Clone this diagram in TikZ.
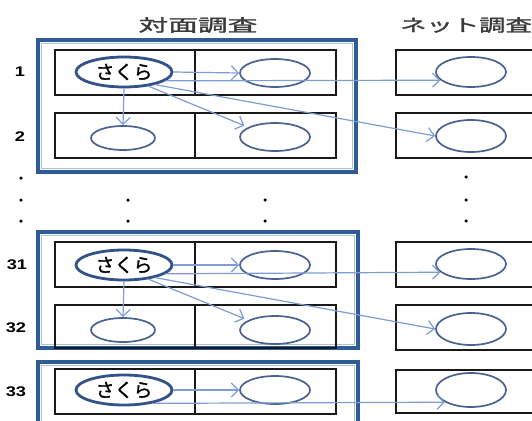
\documentclass[tikz,border=0pt]{standalone}
\usepackage{fontspec}
\setmainfont{Liberation Sans}
\newfontfamily\jp{Noto Sans CJK JP}
\newfontfamily\jpb[FakeBold=1.2]{Noto Sans CJK JP}
\usetikzlibrary{shapes.geometric,arrows.meta}
\definecolor{boxdark}{HTML}{2F5B96}
\definecolor{boxlight}{HTML}{A8C0E4}
\definecolor{arr}{HTML}{7D9DD4}
\definecolor{ell}{HTML}{4A6291}
\definecolor{sak}{HTML}{34528A}
\definecolor{titlegray}{HTML}{3A3A3A}
\begin{document}
\begin{tikzpicture}[x=1pt,y=-1pt,
 cell/.style={draw=black!90, line width=2pt, inner sep=0, minimum height=45pt},
 lcell/.style={cell, minimum width=140pt},
 rcell/.style={cell, minimum width=141pt},
 ncell/.style={cell, minimum width=150pt},
 oval/.style={ellipse, draw=ell, line width=1.7pt, minimum width=70pt, minimum height=28pt, inner sep=0},
 sakura/.style={ellipse, draw=sak, line width=2.8pt, minimum width=96pt, minimum height=30pt, inner sep=0, font=\fontsize{19}{19}\jpb},
 flow/.style={draw=arr, line width=1.2pt, -{Straight Barb[length=7pt,width=14pt]}},
 outerbox/.style={draw=boxdark, line width=3.2pt},
 innerbox/.style={draw=boxlight, line width=1.6pt},
 dotmark/.style={circle, fill=black, inner sep=0, minimum size=3.5pt},
 rowlab/.style={font=\bfseries\fontsize{14}{14}\selectfont},
 title/.style={inner sep=0, text=titlegray}
]
\useasboundingbox (0,0) rectangle (532,420);
\clip (0,0) rectangle (532,420);
\fill[white] (0,0) rectangle (532,420);

% titles
\node[title] (t1) at (198,25) {\scalebox{1.75}[1]{\fontsize{17}{17}\jpb 対面調査}};
\node[title] (t2) at (466,25) {\scalebox{1.55}[1]{\fontsize{17}{17}\jpb ネット調査}};

% ---------- block 1 ----------
\draw[outerbox] (38,40) rectangle (356,172);
\draw[innerbox] (41.5,43.5) rectangle (352.5,168.5);
\node[lcell] (c1l) at (125,72.5) {};
\node[rcell] (c1r) at (265.5,72.5) {};
\node[lcell] (c2l) at (125,135) {};
\node[rcell] (c2r) at (265.5,135) {};
\node[ncell] (n1c) at (471,72.5) {};
\node[ncell] (n2c) at (471,135) {};

\node[sakura] (s1) at (124,72) {さくら};
\node[oval] (r1) at (275,73) {};
\node[oval, minimum width=64pt, minimum height=24pt] (l2) at (123,138) {};
\node[oval] (r2) at (275,137) {};
\node[oval, minimum height=30pt] (n1) at (471,72) {};
\node[oval, minimum height=32pt] (n2) at (471,136) {};

\draw[flow] (s1.east) -- (r1.west);
\draw[flow] (s1.south) -- (l2.north);
\draw[flow, shorten >=4pt] (s1.-30) -- (r2.160);
\draw[flow] (s1.-12) -- (n1.195);
\draw[flow] (s1.-22) -- (n2.west);

\node[rowlab] (lab1) at (20,72) {\scalebox{1.3}[1]{1}};
\node[rowlab] (lab2) at (20,137) {\scalebox{1.3}[1]{2}};

% dots
\node[dotmark] (d1) at (21,178) {};
\node[dotmark] (d2) at (21,200) {};
\node[dotmark] (d3) at (21,221) {};
\node[dotmark] (d4) at (128,200) {};
\node[dotmark] (d5) at (128,221) {};
\node[dotmark] (d6) at (265,200) {};
\node[dotmark] (d7) at (265,221) {};
\node[dotmark] (d8) at (466,177) {};
\node[dotmark] (d9) at (466,200) {};
\node[dotmark] (d10) at (466,221) {};

% ---------- block 2 ----------
\draw[outerbox] (38,232) rectangle (358,348);
\draw[innerbox] (41.5,235.5) rectangle (354.5,344.5);
\node[lcell] (c31l) at (125,264.5) {};
\node[rcell] (c31r) at (265.5,264.5) {};
\node[lcell, minimum height=43pt] (c32l) at (125,326.5) {};
\node[rcell, minimum height=43pt] (c32r) at (265.5,326.5) {};
\node[ncell] (n31c) at (471,264.5) {};
\node[ncell] (n32c) at (471,327.5) {};

\node[sakura] (s31) at (124,265) {さくら};
\node[oval] (r31) at (275,265) {};
\node[oval, minimum width=64pt, minimum height=24pt] (l32) at (123,330) {};
\node[oval] (r32) at (275,330) {};
\node[oval, minimum height=30pt] (n31) at (471,264) {};
\node[oval, minimum height=32pt] (n32) at (471,329) {};

\draw[flow] (s31.east) -- (r31.west);
\draw[flow] (s31.south) -- (l32.north);
\draw[flow, shorten >=4pt] (s31.-30) -- (r32.160);
\draw[flow] (s31.-12) -- (n31.195);
\draw[flow] (s31.-22) -- (n32.west);

\node[rowlab] (lab31) at (17,265) {\scalebox{1.3}[1]{31}};
\node[rowlab] (lab32) at (16,328) {\scalebox{1.3}[1]{32}};

% ---------- block 3 ----------
\draw[outerbox] (38,362) rectangle (358,440);
\draw[innerbox] (41.5,365.5) rectangle (354.5,440);
\node[lcell] (c33l) at (125,391.5) {};
\node[rcell] (c33r) at (265.5,391.5) {};
\node[ncell, minimum height=43pt] (n33c) at (471,391.5) {};

\node[sakura] (s33) at (124,390) {さくら};
\node[oval] (r33) at (275,390) {};
\node[oval, minimum height=34pt] (n33) at (471,390) {};

\draw[flow] (s33.east) -- (r33.west);
\draw[flow] (s33.-25) -- (n33.205);

\node[rowlab] (lab33) at (16,392) {\scalebox{1.3}[1]{33}};
\end{tikzpicture}
\end{document}
